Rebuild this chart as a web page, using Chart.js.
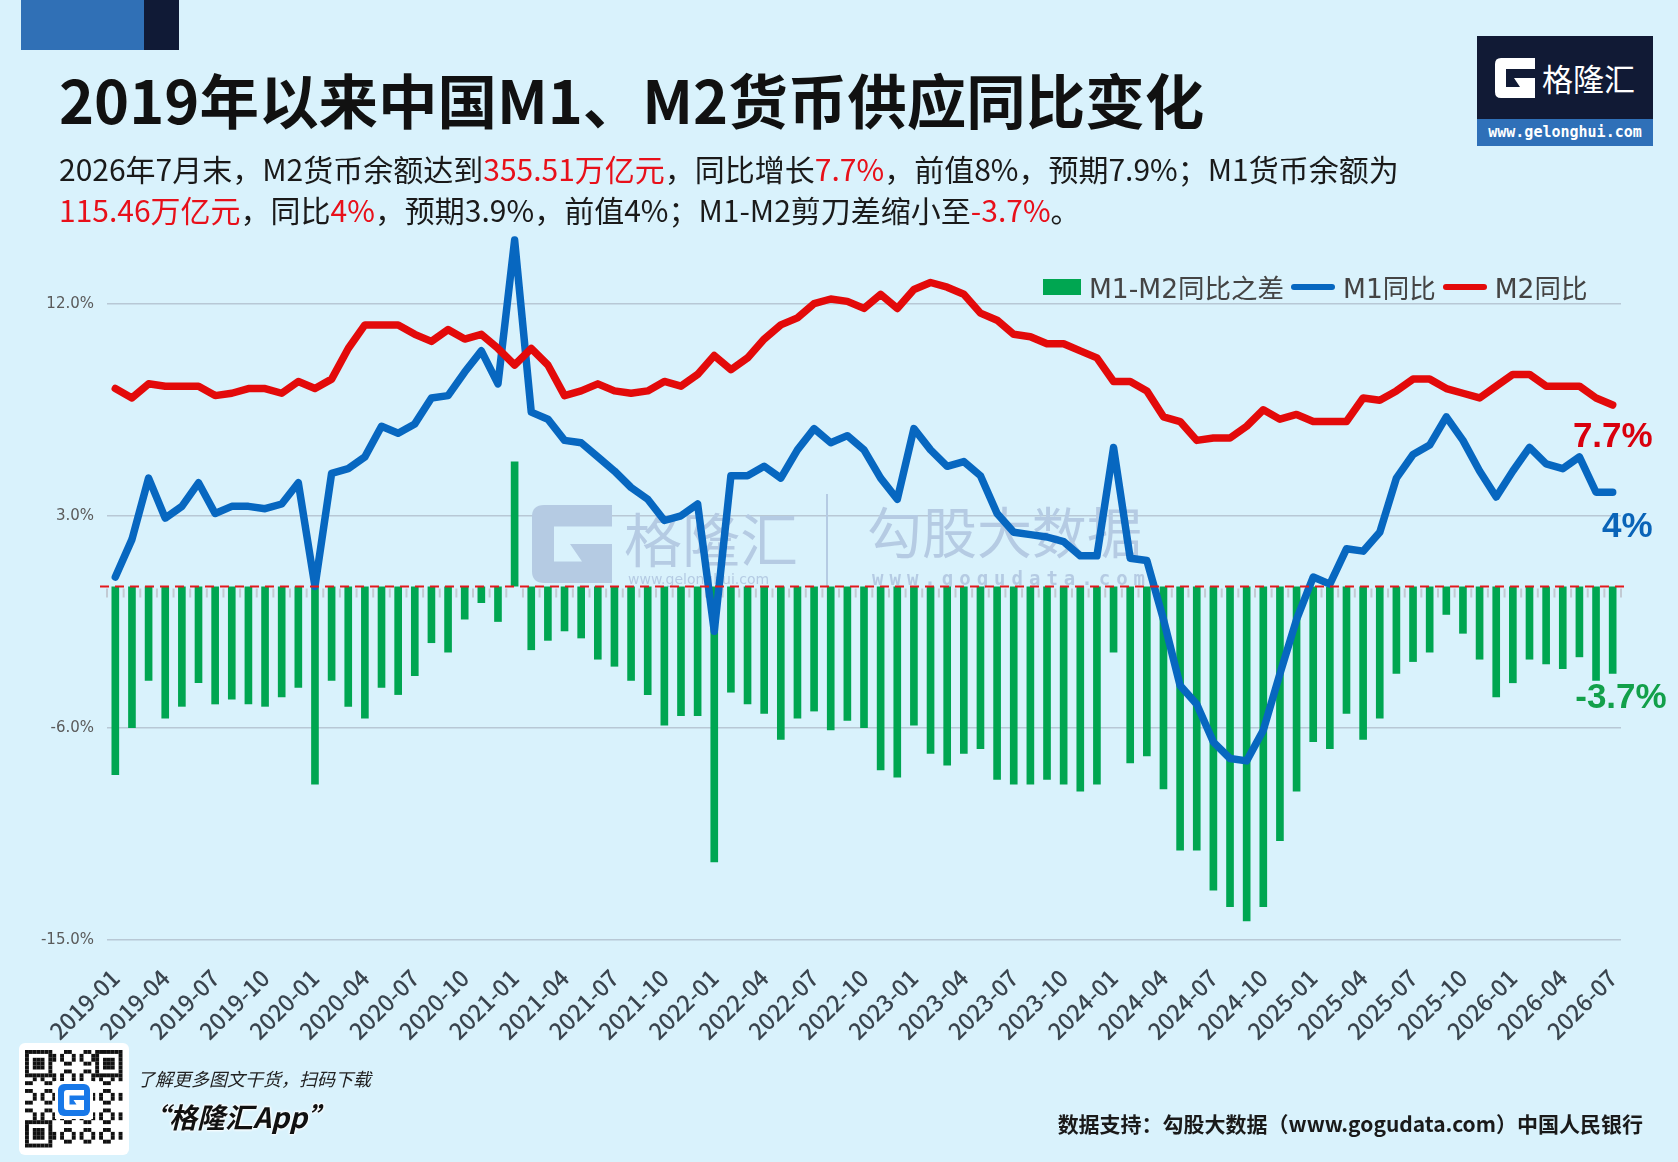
<!DOCTYPE html>
<html lang="zh">
<head>
<meta charset="UTF-8">
<title>2019年以来中国M1、M2货币供应同比变化</title>
<script src="https://cdn.jsdelivr.net/npm/chart.js"></script>
<style>
  body { margin: 0; background: #d9f2fc; font-family: "Noto Sans CJK SC", sans-serif; }
  #page { position: relative; width: 1678px; height: 1162px; overflow: hidden; }
  .abs { position: absolute; white-space: nowrap; }
  #c { position: absolute; left: 0; top: 0; }
  .title { left: 59px; top: 68px; font-size: 59.5px; line-height: 60px; font-weight: bold; color: #111; }
  .sub { left: 59px; font-size: 30px; line-height: 41px; color: #1a1a1a; }
  .red { color: #e8101a; }
  #legend { left: 1043px; top: 267px; display: flex; align-items: center; font-family: "DejaVu Sans", "Noto Sans CJK SC", sans-serif; font-size: 26.5px; color: #444; }
  #legend .sw { display: inline-block; margin-right: 8px; }
  #legend .item { display: flex; align-items: center; margin-right: 7px; }
  .logo-url { font-family: "DejaVu Sans Mono", monospace; font-weight: bold; font-size: 15px; color: #fff; text-align: center; line-height: 27px; }
</style>
</head>
<body>
<div id="page">
  <canvas id="c" width="1678" height="1162"></canvas>

  <div class="abs" style="left:21px;top:0;width:123px;height:50px;background:#3070b6"></div>
  <div class="abs" style="left:144px;top:0;width:35px;height:50px;background:#101a36"></div>

  <div class="abs title">2019年以来中国M1、M2货币供应同比变化</div>
  <div class="abs sub" style="top:148px">2026年7月末，M2货币余额达到<span class="red">355.51万亿元</span>，同比增长<span class="red">7.7%</span>，前值8%，预期7.9%；M1货币余额为</div>
  <div class="abs sub" style="top:189px"><span class="red">115.46万亿元</span>，同比<span class="red">4%</span>，预期3.9%，前值4%；M1-M2剪刀差缩小至<span class="red">-3.7%</span>。</div>

  <div class="abs" style="left:1477px;top:36px;width:176px;height:83px;background:#111a35"></div>
  <svg class="abs" style="left:1495px;top:58px" width="40" height="40" viewBox="0 0 40 40">
    <path d="M6 0H40V11H11V29H25L19 20H40V40H6Q0 40 0 34V6Q0 0 6 0Z" fill="#fff"/>
  </svg>
  <div class="abs" style="left:1542px;top:58px;font-size:31px;line-height:40px;color:#fff">格隆汇</div>
  <div class="abs logo-url" style="left:1477px;top:119px;width:176px;height:27px;background:#2f70b8">www.gelonghui.com</div>

  <div id="legend" class="abs"></div>

  <canvas id="qr" class="abs" style="left:19px;top:1043px" width="110" height="112"></canvas>
  <div class="abs" style="left:137px;top:1065px;font-size:18px;line-height:26px;font-style:italic;color:#222">了解更多图文干货，扫码下载</div>
  <div class="abs" style="left:141px;top:1098px;font-size:28px;line-height:36px;font-style:italic;font-weight:bold;color:#111;text-shadow:0 0 3px #fff,0 0 3px #fff,0 0 3px #fff">“格隆汇App”</div>
  <div class="abs" style="right:35px;top:1108px;font-size:21px;line-height:30px;font-weight:bold;color:#1a1a1a">数据支持：勾股大数据（www.gogudata.com）中国人民银行</div>
</div>

<script>
// monthly categories
const months = [
  '2019-01','2019-02','2019-03','2019-04','2019-05','2019-06','2019-07','2019-08','2019-09','2019-10','2019-11','2019-12',
  '2020-01','2020-02','2020-03','2020-04','2020-05','2020-06','2020-07','2020-08','2020-09','2020-10','2020-11','2020-12',
  '2021-01','2021-02','2021-03','2021-04','2021-05','2021-06','2021-07','2021-08','2021-09','2021-10','2021-11','2021-12',
  '2022-01','2022-02','2022-03','2022-04','2022-05','2022-06','2022-07','2022-08','2022-09','2022-10','2022-11','2022-12',
  '2023-01','2023-02','2023-03','2023-04','2023-05','2023-06','2023-07','2023-08','2023-09','2023-10','2023-11','2023-12',
  '2024-01','2024-02','2024-03','2024-04','2024-05','2024-06','2024-07','2024-08','2024-09','2024-10','2024-11','2024-12',
  '2025-01','2025-02','2025-03','2025-04','2025-05','2025-06','2025-07','2025-08','2025-09','2025-10','2025-11','2025-12',
  '2026-01','2026-02','2026-03','2026-04','2026-05','2026-06','2026-07'
];

// M1 同比 (%)
const m1 = [
  0.4, 2.0, 4.6, 2.9, 3.4, 4.4, 3.1, 3.4, 3.4, 3.3, 3.5, 4.4,
  0.0, 4.8, 5.0, 5.5, 6.8, 6.5, 6.9, 8.0, 8.1, 9.1, 10.0, 8.6,
  14.7, 7.4, 7.1, 6.2, 6.1, 5.5, 4.9, 4.2, 3.7, 2.8, 3.0, 3.5,
  -1.9, 4.7, 4.7, 5.1, 4.6, 5.8, 6.7, 6.1, 6.4, 5.8, 4.6, 3.7,
  6.7, 5.8, 5.1, 5.3, 4.7, 3.1, 2.3, 2.2, 2.1, 1.9, 1.3, 1.3,
  5.9, 1.2, 1.1, -1.4, -4.2, -5.0, -6.6, -7.3, -7.4, -6.1, -3.7, -1.4,
  0.4, 0.1, 1.6, 1.5, 2.3, 4.6, 5.6, 6.0, 7.2, 6.2, 4.9, 3.8,
  4.9, 5.9, 5.2, 5.0, 5.5, 4.0, 4.0
];

// M2 同比 (%)
const m2 = [
  8.4, 8.0, 8.6, 8.5, 8.5, 8.5, 8.1, 8.2, 8.4, 8.4, 8.2, 8.7,
  8.4, 8.8, 10.1, 11.1, 11.1, 11.1, 10.7, 10.4, 10.9, 10.5, 10.7, 10.1,
  9.4, 10.1, 9.4, 8.1, 8.3, 8.6, 8.3, 8.2, 8.3, 8.7, 8.5, 9.0,
  9.8, 9.2, 9.7, 10.5, 11.1, 11.4, 12.0, 12.2, 12.1, 11.8, 12.4, 11.8,
  12.6, 12.9, 12.7, 12.4, 11.6, 11.3, 10.7, 10.6, 10.3, 10.3, 10.0, 9.7,
  8.7, 8.7, 8.3, 7.2, 7.0, 6.2, 6.3, 6.3, 6.8, 7.5, 7.1, 7.3,
  7.0, 7.0, 7.0, 8.0, 7.9, 8.3, 8.8, 8.8, 8.4, 8.2, 8.0, 8.5,
  9.0, 9.0, 8.5, 8.5, 8.5, 8.0, 7.7
];

// M1-M2 同比之差 (%)
const gap = [
  -8.0, -6.0, -4.0, -5.6, -5.1, -4.1, -5.0, -4.8, -5.0, -5.1, -4.7, -4.3,
  -8.4, -4.0, -5.1, -5.6, -4.3, -4.6, -3.8, -2.4, -2.8, -1.4, -0.7, -1.5,
  5.3, -2.7, -2.3, -1.9, -2.2, -3.1, -3.4, -4.0, -4.6, -5.9, -5.5, -5.5,
  -11.7, -4.5, -5.0, -5.4, -6.5, -5.6, -5.3, -6.1, -5.7, -6.0, -7.8, -8.1,
  -5.9, -7.1, -7.6, -7.1, -6.9, -8.2, -8.4, -8.4, -8.2, -8.4, -8.7, -8.4,
  -2.8, -7.5, -7.2, -8.6, -11.2, -11.2, -12.9, -13.6, -14.2, -13.6, -10.8, -8.7,
  -6.6, -6.9, -5.4, -6.5, -5.6, -3.7, -3.2, -2.8, -1.2, -2.0, -3.1, -4.7,
  -4.1, -3.1, -3.3, -3.5, -3.0, -4.0, -3.7
];

const yTicks = [-15, -6, 3, 12];
const xTickLabels = [
  '2019-01','2019-04','2019-07','2019-10','2020-01','2020-04','2020-07','2020-10',
  '2021-01','2021-04','2021-07','2021-10','2022-01','2022-04','2022-07','2022-10',
  '2023-01','2023-04','2023-07','2023-10','2024-01','2024-04','2024-07','2024-10',
  '2025-01','2025-04','2025-07','2025-10','2026-01','2026-04','2026-07'
];
const endLabels = ['-3.7%', '4%', '7.7%'];

const GREEN = '#00a651', BLUE = '#0767c0', RED = '#e30a0a';
const gPath = 'M6 0H40V11H11V29H25L19 20H40V40H6Q0 40 0 34V6Q0 0 6 0Z';

// watermark, zero line, month ticks, end labels
const decor = {
  id: 'decor',
  beforeDatasetsDraw(chart) {
    const { ctx, scales: { x, y } } = chart;
    const zeroY = y.getPixelForValue(0);
    ctx.save();
    ctx.fillStyle = '#b5cbe3';
    ctx.translate(532, 505);
    ctx.scale(2, 1.95);
    ctx.fill(new Path2D(gPath));
    ctx.restore();
    ctx.save();
    ctx.fillStyle = '#b5cbe3';
    ctx.textBaseline = 'middle';
    ctx.font = '58px "Noto Sans CJK SC"';
    ctx.fillText('格隆汇', 624, 540);
    ctx.font = '55px "Noto Sans CJK SC"';
    ctx.fillText('勾股大数据', 867, 532);
    ctx.font = '14px "DejaVu Sans"';
    ctx.fillText('www.gelonghui.com', 628, 580);
    ctx.font = 'bold 19px "DejaVu Sans Mono"';
    ctx.letterSpacing = '6px';
    ctx.fillText('www.gogudata.com', 872, 580);
    ctx.fillRect(826, 494, 2, 92);
    ctx.restore();

    // small month ticks under the zero line
    const step = x.getPixelForValue(1) - x.getPixelForValue(0);
    ctx.save();
    ctx.strokeStyle = '#c2cad3';
    ctx.lineWidth = 2;
    for (let i = 0; i <= months.length; i++) {
      const px = x.getPixelForValue(i) - step / 2;
      ctx.beginPath();
      ctx.moveTo(px, zeroY + 2);
      ctx.lineTo(px, zeroY + 11);
      ctx.stroke();
    }
    ctx.restore();
  },
  afterDatasetsDraw(chart) {
    const { ctx, scales: { x, y } } = chart;
    const zeroY = y.getPixelForValue(0);
    ctx.save();
    ctx.strokeStyle = '#e4181c';
    ctx.lineWidth = 2;
    ctx.setLineDash([9, 6]);
    ctx.beginPath();
    ctx.moveTo(100, zeroY);
    ctx.lineTo(chart.chartArea.right + 9, zeroY);
    ctx.stroke();
    ctx.restore();

    const last = months.length - 1;
    const barEl = chart.getDatasetMeta(0).data[last];
    const m1El = chart.getDatasetMeta(1).data[last];
    const m2El = chart.getDatasetMeta(2).data[last];
    ctx.save();
    ctx.font = 'bold 35px "Liberation Sans"';
    ctx.textAlign = 'right';
    ctx.textBaseline = 'middle';
    ctx.fillStyle = '#d9000d';
    ctx.fillText(endLabels[2], m2El.x + 40, m2El.y + 32);
    ctx.fillStyle = '#0a64b8';
    ctx.fillText(endLabels[1], m1El.x + 40, m1El.y + 35);
    ctx.fillStyle = '#12a04a';
    ctx.fillText(endLabels[0], barEl.x + 54, y.getPixelForValue(gap[last]) + 25);
    ctx.restore();
  }
};

const chart = new Chart(document.getElementById('c'), {
  type: 'bar',
  data: {
    labels: months,
    datasets: [
      { type: 'bar', label: 'M1-M2同比之差', data: gap, backgroundColor: GREEN,
        barPercentage: 0.46, categoryPercentage: 1.0, order: 3 },
      { type: 'line', label: 'M1同比', data: m1, borderColor: BLUE, borderWidth: 7.5,
        pointRadius: 0, tension: 0, fill: false, borderJoinStyle: 'round', borderCapStyle: 'round', order: 2 },
      { type: 'line', label: 'M2同比', data: m2, borderColor: RED, borderWidth: 7.5,
        pointRadius: 0, tension: 0, fill: false, borderJoinStyle: 'round', borderCapStyle: 'round', order: 1 }
    ]
  },
  options: {
    responsive: false,
    animation: false,
    layout: { padding: { left: 7, right: 57, top: 233, bottom: 102 } },
    plugins: { legend: { display: false }, tooltip: { enabled: false } },
    scales: {
      x: {
        offset: true,
        grid: { display: false, drawTicks: false },
        border: { display: false },
        afterFit: s => { s.height = 120; },
        ticks: {
          autoSkip: false,
          maxRotation: 45,
          minRotation: 45,
          padding: 24,
          color: '#3a444e',
          font: { family: 'Noto Sans CJK SC', size: 23, weight: '500' },
          callback: (v, i) => xTickLabels.includes(months[i]) ? months[i] : null
        }
      },
      y: {
        min: -15,
        max: 15,
        afterBuildTicks: s => { s.ticks = yTicks.map(v => ({ value: v })); },
        afterFit: s => { s.width = 100; },
        grid: { color: '#b8c8d5', lineWidth: 1.5, drawTicks: false },
        border: { display: false },
        ticks: {
          padding: 13,
          color: '#5a5a5a',
          font: { family: 'DejaVu Sans', size: 15 },
          callback: v => v.toFixed(1) + '%'
        }
      }
    }
  },
  plugins: [decor]
});

// html legend built from the datasets
const legend = document.getElementById('legend');
chart.data.datasets.forEach(ds => {
  const item = document.createElement('span');
  item.className = 'item';
  const sw = document.createElement('span');
  sw.className = 'sw';
  if (ds.type === 'bar') {
    sw.style.cssText = 'width:38px;height:16px;background:' + ds.backgroundColor;
  } else {
    sw.style.cssText = 'width:44px;height:6px;border-radius:3px;background:' + ds.borderColor;
  }
  const tx = document.createElement('span');
  tx.textContent = ds.label;
  item.appendChild(sw);
  item.appendChild(tx);
  legend.appendChild(item);
});

// qr-like badge
(function () {
  const q = document.getElementById('qr').getContext('2d');
  q.fillStyle = '#fff';
  q.beginPath(); q.roundRect(0, 0, 110, 112, 6); q.fill();
  const n = 25, ms = 3.9, ox = 6, oy = 7;
  q.fillStyle = '#111';
  const finder = (r, c) => r < 7 && c < 7 || r < 7 && c >= n - 7 || r >= n - 7 && c < 7;
  for (let r = 0; r < n; r++) {
    for (let c = 0; c < n; c++) {
      let on;
      if (finder(r, c)) {
        const rr = r < 7 ? r : r - (n - 7), cc = c < 7 ? c : c - (n - 7);
        on = rr === 0 || rr === 6 || cc === 0 || cc === 6 || (rr >= 2 && rr <= 4 && cc >= 2 && cc <= 4);
      } else {
        on = ((r * 7 + c * 11 + r * c) % 5) < 2;
      }
      if (on) q.fillRect(ox + c * ms, oy + r * ms, ms, ms);
    }
  }
  q.fillStyle = '#fff';
  q.fillRect(36, 38, 38, 38);
  q.fillStyle = '#1878e8';
  q.beginPath(); q.roundRect(39, 41, 32, 32, 6); q.fill();
  q.save();
  q.translate(45, 47);
  q.scale(0.5, 0.5);
  q.fillStyle = '#fff';
  q.fill(new Path2D(gPath));
  q.restore();
})();
</script>
</body>
</html>
